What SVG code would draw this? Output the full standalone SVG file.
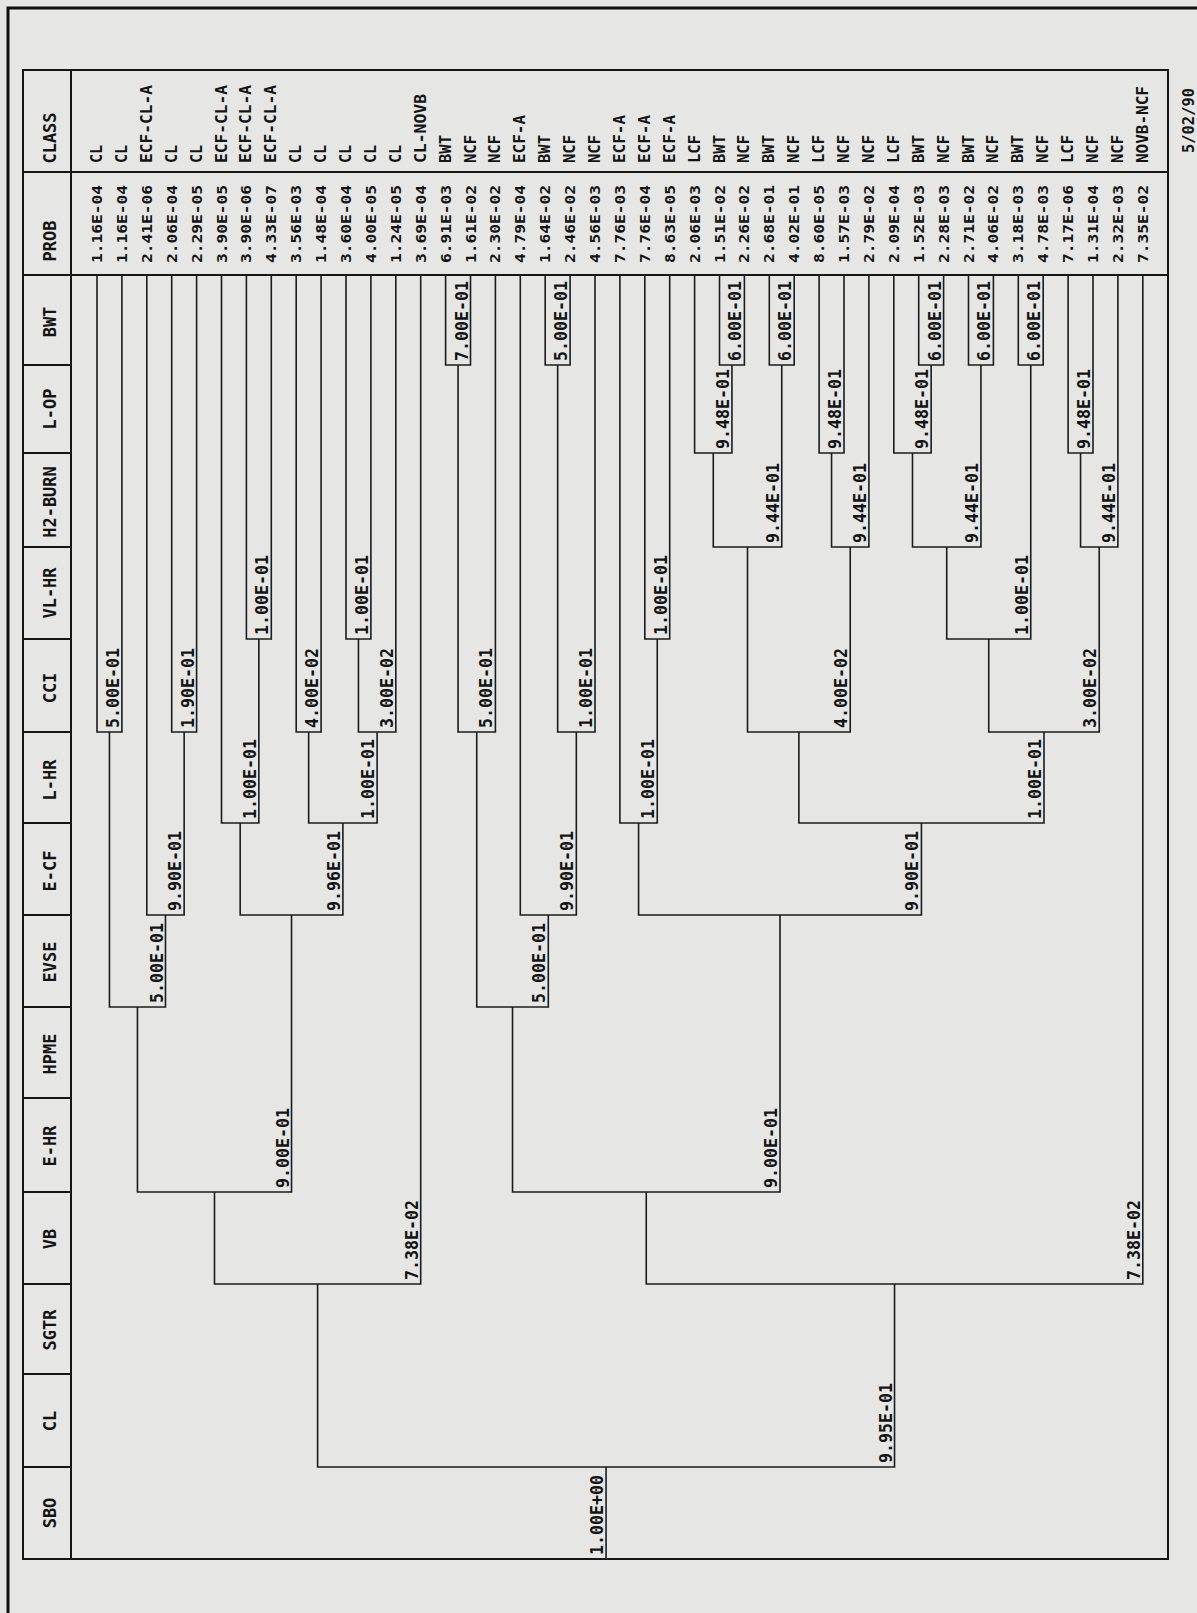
<svg xmlns="http://www.w3.org/2000/svg" width="1197" height="1613" viewBox="0 0 1197 1613">
<style>
.bg{fill:#e6e6e4}
.frame{fill:none;stroke:#111;stroke-width:3}
.tbl{fill:none;stroke:#151515;stroke-width:2}
.tree{fill:none;stroke:#1c1c1c;stroke-width:1.6}
text{fill:#141414;font-family:"DejaVu Sans Mono","Liberation Mono",monospace}
.hd{font-size:17px;font-weight:bold;text-anchor:middle}
.pr{font-size:14px;font-weight:bold}
.cs{font-size:15px;font-weight:bold}
.lb{font-size:18px;font-weight:bold}
.dt{font-size:15px;font-weight:bold}
</style>
<rect class="bg" x="0" y="0" width="1197" height="1613"/>
<path class="frame" d="M8,1613V8H1197"/>
<g id="table">
<rect class="tbl" x="23" y="70" width="1145" height="1489"/>
<path class="tbl" d="M71,70V1559M23,172H1168M23,275H1168M23,365H71M23,453H71M23,547H71M23,639H71M23,732H71M23,823H71M23,915H71M23,1007H71M23,1098H71M23,1192H71M23,1284H71M23,1374H71M23,1467H71"/>
</g>
<g id="connectors" class="tree">
<path d="M97,275V732H121.9V275"/>
<path d="M171.7,275V732H196.6V275"/>
<path d="M146.8,275V915H184.15V732"/>
<path d="M109.45,732V1007H165.48V915"/>
<path d="M246.4,275V639H271.3V275"/>
<path d="M221.5,275V823H258.85V639"/>
<path d="M296.2,275V732H321.1V275"/>
<path d="M346,275V639H370.9V275"/>
<path d="M358.45,639V732H395.8V275"/>
<path d="M308.65,732V823H377.13V732"/>
<path d="M240.18,823V915H342.89V823"/>
<path d="M137.46,1007V1192H291.53V915"/>
<path d="M214.5,1192V1284H420.7V275"/>
<path d="M445.6,275V365H470.5V275"/>
<path d="M458.05,365V732H495.4V275"/>
<path d="M545.2,275V365H570.1V275"/>
<path d="M557.65,365V732H595V275"/>
<path d="M520.3,275V915H576.33V732"/>
<path d="M476.73,732V1007H548.31V915"/>
<path d="M644.8,275V639H669.7V275"/>
<path d="M619.9,275V823H657.25V639"/>
<path d="M719.5,275V365H744.4V275"/>
<path d="M694.6,275V453H731.95V365"/>
<path d="M769.3,275V365H794.2V275"/>
<path d="M713.28,453V547H781.75V365"/>
<path d="M819.1,275V453H844V275"/>
<path d="M831.55,453V547H868.9V275"/>
<path d="M747.51,547V732H850.23V547"/>
<path d="M918.7,275V365H943.6V275"/>
<path d="M893.8,275V453H931.15V365"/>
<path d="M968.5,275V365H993.4V275"/>
<path d="M912.48,453V547H980.95V365"/>
<path d="M1018.3,275V365H1043.2V275"/>
<path d="M946.72,547V639H1030.75V365"/>
<path d="M1068.1,275V453H1093V275"/>
<path d="M1080.55,453V547H1117.9V275"/>
<path d="M988.74,639V732H1099.23V547"/>
<path d="M798.87,732V823H1043.99V732"/>
<path d="M638.58,823V915H921.43V823"/>
<path d="M512.52,1007V1192H780V915"/>
<path d="M646.26,1192V1284H1142.8V275"/>
<path d="M317.6,1284V1467H894.53V1284"/>
<path d="M606.07,1467V1559"/>
</g>
<g id="texts" transform="rotate(-90)">
<g id="headers">
<g id="h-class"><text class="hd" x="-138" y="56">CLASS</text></g>
<g id="h-prob"><text class="hd" x="-241" y="56">PROB</text></g>
<g id="h-bwt"><text class="hd" x="-322" y="56">BWT</text></g>
<g id="h-lop"><text class="hd" x="-409" y="56">L-OP</text></g>
<g id="h-h2"><text class="hd" x="-502" y="56">H2-BURN</text></g>
<g id="h-vlhr"><text class="hd" x="-593" y="56">VL-HR</text></g>
<g id="h-cci"><text class="hd" x="-688" y="56">CCI</text></g>
<g id="h-lhr"><text class="hd" x="-780" y="56">L-HR</text></g>
<g id="h-ecf"><text class="hd" x="-871" y="56">E-CF</text></g>
<g id="h-evse"><text class="hd" x="-962" y="56">EVSE</text></g>
<g id="h-hpme"><text class="hd" x="-1054" y="56">HPME</text></g>
<g id="h-ehr"><text class="hd" x="-1146" y="56">E-HR</text></g>
<g id="h-vb"><text class="hd" x="-1239" y="56">VB</text></g>
<g id="h-sgtr"><text class="hd" x="-1330" y="56">SGTR</text></g>
<g id="h-cl"><text class="hd" x="-1421" y="56">CL</text></g>
<g id="h-sbo"><text class="hd" x="-1513" y="56">SBO</text></g>
</g>
<g id="sequences">
<g id="seq1"><text class="pr" x="-263" y="102" textLength="78" lengthAdjust="spacingAndGlyphs">1.16E-04</text><text class="cs" x="-163" y="102" textLength="18" lengthAdjust="spacingAndGlyphs">CL</text></g>
<g id="seq2"><text class="pr" x="-263" y="126.9" textLength="78" lengthAdjust="spacingAndGlyphs">1.16E-04</text><text class="cs" x="-163" y="126.9" textLength="18" lengthAdjust="spacingAndGlyphs">CL</text></g>
<g id="seq3"><text class="pr" x="-263" y="151.8" textLength="78" lengthAdjust="spacingAndGlyphs">2.41E-06</text><text class="cs" x="-163" y="151.8" textLength="78" lengthAdjust="spacingAndGlyphs">ECF-CL-A</text></g>
<g id="seq4"><text class="pr" x="-263" y="176.7" textLength="78" lengthAdjust="spacingAndGlyphs">2.06E-04</text><text class="cs" x="-163" y="176.7" textLength="18" lengthAdjust="spacingAndGlyphs">CL</text></g>
<g id="seq5"><text class="pr" x="-263" y="201.6" textLength="78" lengthAdjust="spacingAndGlyphs">2.29E-05</text><text class="cs" x="-163" y="201.6" textLength="18" lengthAdjust="spacingAndGlyphs">CL</text></g>
<g id="seq6"><text class="pr" x="-263" y="226.5" textLength="78" lengthAdjust="spacingAndGlyphs">3.90E-05</text><text class="cs" x="-163" y="226.5" textLength="78" lengthAdjust="spacingAndGlyphs">ECF-CL-A</text></g>
<g id="seq7"><text class="pr" x="-263" y="251.4" textLength="78" lengthAdjust="spacingAndGlyphs">3.90E-06</text><text class="cs" x="-163" y="251.4" textLength="78" lengthAdjust="spacingAndGlyphs">ECF-CL-A</text></g>
<g id="seq8"><text class="pr" x="-263" y="276.3" textLength="78" lengthAdjust="spacingAndGlyphs">4.33E-07</text><text class="cs" x="-163" y="276.3" textLength="78" lengthAdjust="spacingAndGlyphs">ECF-CL-A</text></g>
<g id="seq9"><text class="pr" x="-263" y="301.2" textLength="78" lengthAdjust="spacingAndGlyphs">3.56E-03</text><text class="cs" x="-163" y="301.2" textLength="18" lengthAdjust="spacingAndGlyphs">CL</text></g>
<g id="seq10"><text class="pr" x="-263" y="326.1" textLength="78" lengthAdjust="spacingAndGlyphs">1.48E-04</text><text class="cs" x="-163" y="326.1" textLength="18" lengthAdjust="spacingAndGlyphs">CL</text></g>
<g id="seq11"><text class="pr" x="-263" y="351" textLength="78" lengthAdjust="spacingAndGlyphs">3.60E-04</text><text class="cs" x="-163" y="351" textLength="18" lengthAdjust="spacingAndGlyphs">CL</text></g>
<g id="seq12"><text class="pr" x="-263" y="375.9" textLength="78" lengthAdjust="spacingAndGlyphs">4.00E-05</text><text class="cs" x="-163" y="375.9" textLength="18" lengthAdjust="spacingAndGlyphs">CL</text></g>
<g id="seq13"><text class="pr" x="-263" y="400.8" textLength="78" lengthAdjust="spacingAndGlyphs">1.24E-05</text><text class="cs" x="-163" y="400.8" textLength="18" lengthAdjust="spacingAndGlyphs">CL</text></g>
<g id="seq14"><text class="pr" x="-263" y="425.7" textLength="78" lengthAdjust="spacingAndGlyphs">3.69E-04</text><text class="cs" x="-163" y="425.7" textLength="69" lengthAdjust="spacingAndGlyphs">CL-NOVB</text></g>
<g id="seq15"><text class="pr" x="-263" y="450.6" textLength="78" lengthAdjust="spacingAndGlyphs">6.91E-03</text><text class="cs" x="-163" y="450.6" textLength="28" lengthAdjust="spacingAndGlyphs">BWT</text></g>
<g id="seq16"><text class="pr" x="-263" y="475.5" textLength="78" lengthAdjust="spacingAndGlyphs">1.61E-02</text><text class="cs" x="-163" y="475.5" textLength="28" lengthAdjust="spacingAndGlyphs">NCF</text></g>
<g id="seq17"><text class="pr" x="-263" y="500.4" textLength="78" lengthAdjust="spacingAndGlyphs">2.30E-02</text><text class="cs" x="-163" y="500.4" textLength="28" lengthAdjust="spacingAndGlyphs">NCF</text></g>
<g id="seq18"><text class="pr" x="-263" y="525.3" textLength="78" lengthAdjust="spacingAndGlyphs">4.79E-04</text><text class="cs" x="-163" y="525.3" textLength="48" lengthAdjust="spacingAndGlyphs">ECF-A</text></g>
<g id="seq19"><text class="pr" x="-263" y="550.2" textLength="78" lengthAdjust="spacingAndGlyphs">1.64E-02</text><text class="cs" x="-163" y="550.2" textLength="28" lengthAdjust="spacingAndGlyphs">BWT</text></g>
<g id="seq20"><text class="pr" x="-263" y="575.1" textLength="78" lengthAdjust="spacingAndGlyphs">2.46E-02</text><text class="cs" x="-163" y="575.1" textLength="28" lengthAdjust="spacingAndGlyphs">NCF</text></g>
<g id="seq21"><text class="pr" x="-263" y="600" textLength="78" lengthAdjust="spacingAndGlyphs">4.56E-03</text><text class="cs" x="-163" y="600" textLength="28" lengthAdjust="spacingAndGlyphs">NCF</text></g>
<g id="seq22"><text class="pr" x="-263" y="624.9" textLength="78" lengthAdjust="spacingAndGlyphs">7.76E-03</text><text class="cs" x="-163" y="624.9" textLength="48" lengthAdjust="spacingAndGlyphs">ECF-A</text></g>
<g id="seq23"><text class="pr" x="-263" y="649.8" textLength="78" lengthAdjust="spacingAndGlyphs">7.76E-04</text><text class="cs" x="-163" y="649.8" textLength="48" lengthAdjust="spacingAndGlyphs">ECF-A</text></g>
<g id="seq24"><text class="pr" x="-263" y="674.7" textLength="78" lengthAdjust="spacingAndGlyphs">8.63E-05</text><text class="cs" x="-163" y="674.7" textLength="48" lengthAdjust="spacingAndGlyphs">ECF-A</text></g>
<g id="seq25"><text class="pr" x="-263" y="699.6" textLength="78" lengthAdjust="spacingAndGlyphs">2.06E-03</text><text class="cs" x="-163" y="699.6" textLength="28" lengthAdjust="spacingAndGlyphs">LCF</text></g>
<g id="seq26"><text class="pr" x="-263" y="724.5" textLength="78" lengthAdjust="spacingAndGlyphs">1.51E-02</text><text class="cs" x="-163" y="724.5" textLength="28" lengthAdjust="spacingAndGlyphs">BWT</text></g>
<g id="seq27"><text class="pr" x="-263" y="749.4" textLength="78" lengthAdjust="spacingAndGlyphs">2.26E-02</text><text class="cs" x="-163" y="749.4" textLength="28" lengthAdjust="spacingAndGlyphs">NCF</text></g>
<g id="seq28"><text class="pr" x="-263" y="774.3" textLength="78" lengthAdjust="spacingAndGlyphs">2.68E-01</text><text class="cs" x="-163" y="774.3" textLength="28" lengthAdjust="spacingAndGlyphs">BWT</text></g>
<g id="seq29"><text class="pr" x="-263" y="799.2" textLength="78" lengthAdjust="spacingAndGlyphs">4.02E-01</text><text class="cs" x="-163" y="799.2" textLength="28" lengthAdjust="spacingAndGlyphs">NCF</text></g>
<g id="seq30"><text class="pr" x="-263" y="824.1" textLength="78" lengthAdjust="spacingAndGlyphs">8.60E-05</text><text class="cs" x="-163" y="824.1" textLength="28" lengthAdjust="spacingAndGlyphs">LCF</text></g>
<g id="seq31"><text class="pr" x="-263" y="849" textLength="78" lengthAdjust="spacingAndGlyphs">1.57E-03</text><text class="cs" x="-163" y="849" textLength="28" lengthAdjust="spacingAndGlyphs">NCF</text></g>
<g id="seq32"><text class="pr" x="-263" y="873.9" textLength="78" lengthAdjust="spacingAndGlyphs">2.79E-02</text><text class="cs" x="-163" y="873.9" textLength="28" lengthAdjust="spacingAndGlyphs">NCF</text></g>
<g id="seq33"><text class="pr" x="-263" y="898.8" textLength="78" lengthAdjust="spacingAndGlyphs">2.09E-04</text><text class="cs" x="-163" y="898.8" textLength="28" lengthAdjust="spacingAndGlyphs">LCF</text></g>
<g id="seq34"><text class="pr" x="-263" y="923.7" textLength="78" lengthAdjust="spacingAndGlyphs">1.52E-03</text><text class="cs" x="-163" y="923.7" textLength="28" lengthAdjust="spacingAndGlyphs">BWT</text></g>
<g id="seq35"><text class="pr" x="-263" y="948.6" textLength="78" lengthAdjust="spacingAndGlyphs">2.28E-03</text><text class="cs" x="-163" y="948.6" textLength="28" lengthAdjust="spacingAndGlyphs">NCF</text></g>
<g id="seq36"><text class="pr" x="-263" y="973.5" textLength="78" lengthAdjust="spacingAndGlyphs">2.71E-02</text><text class="cs" x="-163" y="973.5" textLength="28" lengthAdjust="spacingAndGlyphs">BWT</text></g>
<g id="seq37"><text class="pr" x="-263" y="998.4" textLength="78" lengthAdjust="spacingAndGlyphs">4.06E-02</text><text class="cs" x="-163" y="998.4" textLength="28" lengthAdjust="spacingAndGlyphs">NCF</text></g>
<g id="seq38"><text class="pr" x="-263" y="1023.3" textLength="78" lengthAdjust="spacingAndGlyphs">3.18E-03</text><text class="cs" x="-163" y="1023.3" textLength="28" lengthAdjust="spacingAndGlyphs">BWT</text></g>
<g id="seq39"><text class="pr" x="-263" y="1048.2" textLength="78" lengthAdjust="spacingAndGlyphs">4.78E-03</text><text class="cs" x="-163" y="1048.2" textLength="28" lengthAdjust="spacingAndGlyphs">NCF</text></g>
<g id="seq40"><text class="pr" x="-263" y="1073.1" textLength="78" lengthAdjust="spacingAndGlyphs">7.17E-06</text><text class="cs" x="-163" y="1073.1" textLength="28" lengthAdjust="spacingAndGlyphs">LCF</text></g>
<g id="seq41"><text class="pr" x="-263" y="1098" textLength="78" lengthAdjust="spacingAndGlyphs">1.31E-04</text><text class="cs" x="-163" y="1098" textLength="28" lengthAdjust="spacingAndGlyphs">NCF</text></g>
<g id="seq42"><text class="pr" x="-263" y="1122.9" textLength="78" lengthAdjust="spacingAndGlyphs">2.32E-03</text><text class="cs" x="-163" y="1122.9" textLength="28" lengthAdjust="spacingAndGlyphs">NCF</text></g>
<g id="seq43"><text class="pr" x="-263" y="1147.8" textLength="78" lengthAdjust="spacingAndGlyphs">7.35E-02</text><text class="cs" x="-163" y="1147.8" textLength="77" lengthAdjust="spacingAndGlyphs">NOVB-NCF</text></g>
</g>
<g id="branch-labels">
<g id="n_a"><text class="lb" x="-728" y="118.9" textLength="80" lengthAdjust="spacingAndGlyphs">5.00E-01</text></g>
<g id="n_b"><text class="lb" x="-728" y="193.6" textLength="80" lengthAdjust="spacingAndGlyphs">1.90E-01</text></g>
<g id="n_c"><text class="lb" x="-911" y="181.2" textLength="80" lengthAdjust="spacingAndGlyphs">9.90E-01</text></g>
<g id="n_d"><text class="lb" x="-1003" y="162.5" textLength="80" lengthAdjust="spacingAndGlyphs">5.00E-01</text></g>
<g id="n_e"><text class="lb" x="-635" y="268.3" textLength="80" lengthAdjust="spacingAndGlyphs">1.00E-01</text></g>
<g id="n_f"><text class="lb" x="-819" y="255.9" textLength="80" lengthAdjust="spacingAndGlyphs">1.00E-01</text></g>
<g id="n_g"><text class="lb" x="-728" y="318.1" textLength="80" lengthAdjust="spacingAndGlyphs">4.00E-02</text></g>
<g id="n_h"><text class="lb" x="-635" y="367.9" textLength="80" lengthAdjust="spacingAndGlyphs">1.00E-01</text></g>
<g id="n_i"><text class="lb" x="-728" y="392.8" textLength="80" lengthAdjust="spacingAndGlyphs">3.00E-02</text></g>
<g id="n_j"><text class="lb" x="-819" y="374.1" textLength="80" lengthAdjust="spacingAndGlyphs">1.00E-01</text></g>
<g id="n_k"><text class="lb" x="-911" y="339.9" textLength="80" lengthAdjust="spacingAndGlyphs">9.96E-01</text></g>
<g id="n_l"><text class="lb" x="-1188" y="288.5" textLength="80" lengthAdjust="spacingAndGlyphs">9.00E-01</text></g>
<g id="n_m"><text class="lb" x="-1280" y="417.7" textLength="80" lengthAdjust="spacingAndGlyphs">7.38E-02</text></g>
<g id="n_n"><text class="lb" x="-361" y="467.5" textLength="80" lengthAdjust="spacingAndGlyphs">7.00E-01</text></g>
<g id="n_o"><text class="lb" x="-728" y="492.4" textLength="80" lengthAdjust="spacingAndGlyphs">5.00E-01</text></g>
<g id="n_p"><text class="lb" x="-361" y="567.1" textLength="80" lengthAdjust="spacingAndGlyphs">5.00E-01</text></g>
<g id="n_q"><text class="lb" x="-728" y="592" textLength="80" lengthAdjust="spacingAndGlyphs">1.00E-01</text></g>
<g id="n_r"><text class="lb" x="-911" y="573.3" textLength="80" lengthAdjust="spacingAndGlyphs">9.90E-01</text></g>
<g id="n_s"><text class="lb" x="-1003" y="545.3" textLength="80" lengthAdjust="spacingAndGlyphs">5.00E-01</text></g>
<g id="n_t"><text class="lb" x="-635" y="666.7" textLength="80" lengthAdjust="spacingAndGlyphs">1.00E-01</text></g>
<g id="n_u"><text class="lb" x="-819" y="654.3" textLength="80" lengthAdjust="spacingAndGlyphs">1.00E-01</text></g>
<g id="n_v"><text class="lb" x="-361" y="741.4" textLength="80" lengthAdjust="spacingAndGlyphs">6.00E-01</text></g>
<g id="n_w"><text class="lb" x="-449" y="729" textLength="80" lengthAdjust="spacingAndGlyphs">9.48E-01</text></g>
<g id="n_x"><text class="lb" x="-361" y="791.2" textLength="80" lengthAdjust="spacingAndGlyphs">6.00E-01</text></g>
<g id="n_y"><text class="lb" x="-543" y="778.8" textLength="80" lengthAdjust="spacingAndGlyphs">9.44E-01</text></g>
<g id="n_z"><text class="lb" x="-449" y="841" textLength="80" lengthAdjust="spacingAndGlyphs">9.48E-01</text></g>
<g id="n_aa"><text class="lb" x="-543" y="865.9" textLength="80" lengthAdjust="spacingAndGlyphs">9.44E-01</text></g>
<g id="n_ab"><text class="lb" x="-728" y="847.2" textLength="80" lengthAdjust="spacingAndGlyphs">4.00E-02</text></g>
<g id="n_ac"><text class="lb" x="-361" y="940.6" textLength="80" lengthAdjust="spacingAndGlyphs">6.00E-01</text></g>
<g id="n_ad"><text class="lb" x="-449" y="928.2" textLength="80" lengthAdjust="spacingAndGlyphs">9.48E-01</text></g>
<g id="n_ae"><text class="lb" x="-361" y="990.4" textLength="80" lengthAdjust="spacingAndGlyphs">6.00E-01</text></g>
<g id="n_af"><text class="lb" x="-543" y="978" textLength="80" lengthAdjust="spacingAndGlyphs">9.44E-01</text></g>
<g id="n_ag"><text class="lb" x="-361" y="1040.2" textLength="80" lengthAdjust="spacingAndGlyphs">6.00E-01</text></g>
<g id="n_ah"><text class="lb" x="-635" y="1027.8" textLength="80" lengthAdjust="spacingAndGlyphs">1.00E-01</text></g>
<g id="n_ai"><text class="lb" x="-449" y="1090" textLength="80" lengthAdjust="spacingAndGlyphs">9.48E-01</text></g>
<g id="n_aj"><text class="lb" x="-543" y="1114.9" textLength="80" lengthAdjust="spacingAndGlyphs">9.44E-01</text></g>
<g id="n_ak"><text class="lb" x="-728" y="1096.2" textLength="80" lengthAdjust="spacingAndGlyphs">3.00E-02</text></g>
<g id="n_al"><text class="lb" x="-819" y="1041" textLength="80" lengthAdjust="spacingAndGlyphs">1.00E-01</text></g>
<g id="n_am"><text class="lb" x="-911" y="918.4" textLength="80" lengthAdjust="spacingAndGlyphs">9.90E-01</text></g>
<g id="n_an"><text class="lb" x="-1188" y="777" textLength="80" lengthAdjust="spacingAndGlyphs">9.00E-01</text></g>
<g id="n_ao"><text class="lb" x="-1280" y="1139.8" textLength="80" lengthAdjust="spacingAndGlyphs">7.38E-02</text></g>
<g id="n_root"><text class="lb" x="-1463" y="891.5" textLength="80" lengthAdjust="spacingAndGlyphs">9.95E-01</text></g>
<g id="n_sbo"><text class="lb" x="-1555" y="603" textLength="80" lengthAdjust="spacingAndGlyphs">1.00E+00</text></g>
</g>
<g id="date"><text class="dt" x="-153" y="1194" textLength="65" lengthAdjust="spacingAndGlyphs">5/02/90</text></g>
</g>
</svg>
